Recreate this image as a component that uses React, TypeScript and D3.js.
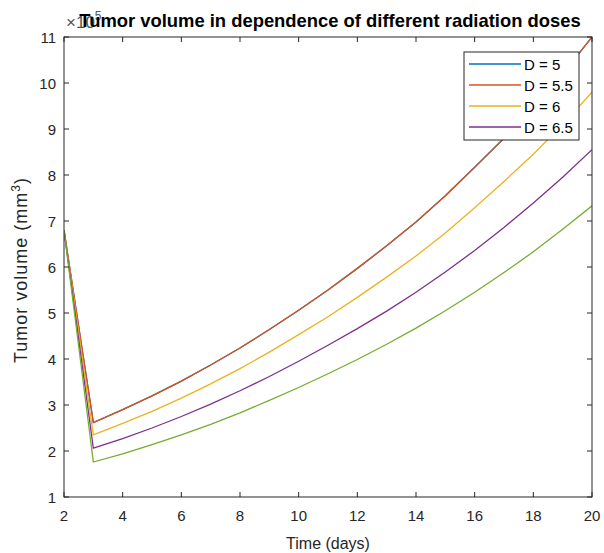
import React, { useRef, useEffect } from "react";
import * as d3 from "d3";

const days = [2, 3, 4, 5, 6, 7, 8, 9, 10, 11, 12, 13, 14, 15, 16, 17, 18, 19, 20];

const seriesNames = ["D = 5", "D = 5.5", "D = 6", "D = 6.5", ""];
const seriesColors = ["#0072BD", "#D95319", "#EDB120", "#7E2F8E", "#77AC30"];

// values are x 10^5 mm^3
const volD5 = [6.8, 2.62, 2.9, 3.2, 3.52, 3.87, 4.24, 4.64, 5.06, 5.5, 5.97, 6.46, 6.98, 7.55, 8.17, 8.8, 9.47, 10.2, 11.0];
const volD55 = [6.8, 2.62, 2.9, 3.2, 3.52, 3.87, 4.24, 4.64, 5.06, 5.5, 5.97, 6.46, 6.98, 7.55, 8.17, 8.8, 9.47, 10.2, 11.0];
const volD6 = [6.8, 2.35, 2.6, 2.86, 3.15, 3.46, 3.79, 4.15, 4.53, 4.92, 5.34, 5.78, 6.24, 6.74, 7.29, 7.86, 8.45, 9.1, 9.8];
const volD65 = [6.8, 2.06, 2.27, 2.5, 2.75, 3.02, 3.31, 3.62, 3.95, 4.3, 4.66, 5.04, 5.45, 5.89, 6.36, 6.86, 7.39, 7.95, 8.55];
const volD7 = [6.8, 1.76, 1.94, 2.14, 2.35, 2.58, 2.83, 3.1, 3.38, 3.68, 3.99, 4.32, 4.67, 5.05, 5.45, 5.88, 6.33, 6.82, 7.33];

const xTicks = [2, 4, 6, 8, 10, 12, 14, 16, 18, 20];
const yTicks = [1, 2, 3, 4, 5, 6, 7, 8, 9, 10, 11];

function App() {
  const canvas = useRef(null);

  function drawChart() {
    const width = 604;
    const height = 553;
    const left = 64;
    const right = 592;
    const top = 37;
    const bottom = 497;
    const axisColor = "#262626";
    const font = "Arial, 'Liberation Sans', Helvetica, sans-serif";

    const svg = d3
      .select(canvas.current)
      .attr("width", width)
      .attr("height", height)
      .style("position", "absolute")
      .style("left", 0)
      .style("top", 0)
      .style("background", "#fff");

    svg.selectAll("*").remove();

    const x = d3.scaleLinear().domain([2, 20]).range([left, right]);
    const y = d3.scaleLinear().domain([1, 11]).range([bottom, top]);

    const allSeries = [volD5, volD55, volD6, volD65, volD7];

    const line = d3
      .line<number>()
      .x((d, i) => x(days[i]))
      .y((d) => y(d));

    const plot = svg.append("g");
    plot
      .append("clipPath")
      .attr("id", "clip")
      .append("rect")
      .attr("x", left)
      .attr("y", top)
      .attr("width", right - left)
      .attr("height", bottom - top);

    plot
      .selectAll("path.series")
      .data(allSeries)
      .enter()
      .append("path")
      .attr("class", "series")
      .attr("clip-path", "url(#clip)")
      .attr("fill", "none")
      .attr("stroke", (d, i) => seriesColors[i])
      .attr("stroke-width", 1.3)
      .attr("d", (d) => line(d));

    // axes box with inward ticks on all sides
    const tickLen = 5;
    const axes = svg.append("g").attr("stroke", axisColor).attr("stroke-width", 1);
    axes
      .append("rect")
      .attr("x", left)
      .attr("y", top)
      .attr("width", right - left)
      .attr("height", bottom - top)
      .attr("fill", "none");

    xTicks.forEach((t) => {
      axes.append("line").attr("x1", x(t)).attr("x2", x(t)).attr("y1", bottom).attr("y2", bottom - tickLen);
      axes.append("line").attr("x1", x(t)).attr("x2", x(t)).attr("y1", top).attr("y2", top + tickLen);
    });
    yTicks.forEach((t) => {
      axes.append("line").attr("x1", left).attr("x2", left + tickLen).attr("y1", y(t)).attr("y2", y(t));
      axes.append("line").attr("x1", right).attr("x2", right - tickLen).attr("y1", y(t)).attr("y2", y(t));
    });

    svg
      .selectAll("text.xtick")
      .data(xTicks)
      .enter()
      .append("text")
      .attr("class", "xtick")
      .attr("x", (d) => x(d))
      .attr("y", bottom + 24)
      .attr("text-anchor", "middle")
      .attr("fill", axisColor)
      .style("font-family", font)
      .style("font-size", "15px")
      .text((d) => d);

    svg
      .selectAll("text.ytick")
      .data(yTicks)
      .enter()
      .append("text")
      .attr("class", "ytick")
      .attr("x", left - 8)
      .attr("y", (d) => y(d) + 5.5)
      .attr("text-anchor", "end")
      .attr("fill", axisColor)
      .style("font-family", font)
      .style("font-size", "15px")
      .text((d) => d);

    // exponent label (the title sits on top of it, as in the original)
    const expo = svg
      .append("text")
      .attr("x", left + 2)
      .attr("y", 28)
      .attr("fill", "#555")
      .style("font-family", font)
      .style("font-size", "17px");
    expo.append("tspan").text("×10");
    expo.append("tspan").attr("dy", -8).style("font-size", "12px").text("5");

    svg
      .append("text")
      .attr("x", (left + right) / 2 + 2)
      .attr("y", 27)
      .attr("text-anchor", "middle")
      .attr("fill", "#000")
      .style("font-family", font)
      .style("font-weight", "bold")
      .style("font-size", "18.4px")
      .text("Tumor volume in dependence of different radiation doses");

    svg
      .append("text")
      .attr("x", (left + right) / 2)
      .attr("y", 549)
      .attr("text-anchor", "middle")
      .attr("fill", axisColor)
      .style("font-family", font)
      .style("font-size", "16px")
      .text("Time (days)");

    const ylab = svg
      .append("text")
      .attr("transform", `translate(27, ${(top + bottom) / 2 + 3}) rotate(-90)`)
      .attr("text-anchor", "middle")
      .attr("fill", axisColor)
      .style("font-family", font)
      .style("font-size", "18px")
      .style("letter-spacing", "1px");
    ylab.append("tspan").text("Tumor volume  (mm");
    ylab.append("tspan").attr("dy", -7).style("font-size", "12px").text("3");
    ylab.append("tspan").attr("dy", 7).text(")");

    // legend
    const lx = 464;
    const ly = 52;
    const legend = svg.append("g");
    legend
      .append("rect")
      .attr("x", lx)
      .attr("y", ly)
      .attr("width", 115)
      .attr("height", 88)
      .attr("fill", "#fff")
      .attr("stroke", axisColor)
      .attr("stroke-width", 1);

    const rows = legend
      .selectAll("g.row")
      .data(seriesNames.slice(0, 4))
      .enter()
      .append("g")
      .attr("class", "row")
      .attr("transform", (d, i) => `translate(0, ${ly + 12 + i * 21})`);
    rows
      .append("line")
      .attr("x1", lx + 5)
      .attr("x2", lx + 57)
      .attr("stroke", (d, i) => seriesColors[i])
      .attr("stroke-width", 1.5);
    rows
      .append("text")
      .attr("x", lx + 60)
      .attr("y", 5.5)
      .attr("fill", "#000")
      .style("font-family", font)
      .style("font-size", "15px")
      .text((d) => d);
  }

  useEffect(() => {
    drawChart();
  }, []);

  return (
    <>
      <svg ref={canvas}></svg>
    </>
  );
}

export default App;
